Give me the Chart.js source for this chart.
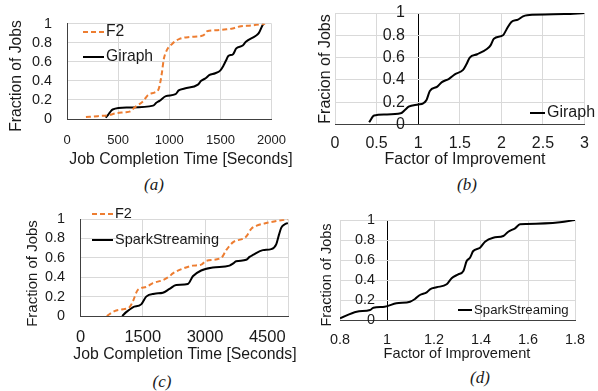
<!DOCTYPE html>
<html>
<head>
<meta charset="utf-8">
<script src="https://cdn.jsdelivr.net/npm/chart.js@4/dist/chart.umd.min.js"></script>
<style>
body { margin: 0; background: #fff; }
#wrap { position: relative; width: 598px; height: 391px; overflow: hidden; }
canvas { position: absolute; }
.cap { position: absolute; font: italic 17px "Liberation Serif", serif; color: #1a1a1a; transform: translate(-50%, -50%); }
</style>
</head>
<body>
<div id="wrap">
  <canvas id="ca" width="300" height="172" style="left:0;top:0"></canvas>
  <canvas id="cb" width="298" height="172" style="left:300px;top:0"></canvas>
  <canvas id="cc" width="300" height="172" style="left:0;top:195px"></canvas>
  <canvas id="cd" width="298" height="172" style="left:300px;top:195px"></canvas>
  <div class="cap" style="left:154px;top:185px">(a)</div>
  <div class="cap" style="left:467px;top:185px">(b)</div>
  <div class="cap" style="left:162px;top:382px">(c)</div>
  <div class="cap" style="left:480px;top:378px">(d)</div>
</div>
<script>
// tick labels
var fracTicks = [0, 0.2, 0.4, 0.6, 0.8, 1];
var timeTicksA = [0, 500, 1000, 1500, 2000];
var factorTicksB = [0, 0.5, 1, 1.5, 2, 2.5, 3];
var timeTicksC = [0, 1500, 3000, 4500];
var factorTicksD = [0.8, 1, 1.2, 1.4, 1.6, 1.8];

// (a) job completion time, Giraph
var f2TimeA = [185, 300, 404, 480, 560, 620, 650, 685, 748, 790, 860, 895, 915, 930, 945, 975, 1030, 1100, 1200, 1312, 1350, 1371, 1450, 1559, 1620, 1687, 1800, 1875, 1937];
var f2FracA = [0.02, 0.03, 0.04, 0.06, 0.07, 0.08, 0.11, 0.14, 0.19, 0.25, 0.28, 0.31, 0.40, 0.50, 0.62, 0.72, 0.79, 0.84, 0.86, 0.87, 0.89, 0.92, 0.93, 0.94, 0.95, 0.97, 0.98, 0.99, 1.0];
var giraphTimeA = [378, 400, 420, 446, 600, 842, 873, 904, 967, 1061, 1092, 1150, 1280, 1312, 1359, 1390, 1450, 1500, 1530, 1562, 1577, 1624, 1655, 1718, 1749, 1843, 1875, 1906, 1922];
var giraphFracA = [0.015, 0.04, 0.07, 0.10, 0.12, 0.14, 0.17, 0.19, 0.24, 0.26, 0.30, 0.32, 0.36, 0.40, 0.43, 0.46, 0.48, 0.51, 0.56, 0.63, 0.66, 0.68, 0.74, 0.77, 0.81, 0.87, 0.90, 0.97, 1.0];

// (b) factor of improvement, Giraph
var giraphFactorB = [0.41, 0.47, 0.60, 0.79, 0.84, 0.885, 1.0, 1.06, 1.10, 1.14, 1.23, 1.285, 1.37, 1.44, 1.54, 1.58, 1.62, 1.71, 1.83, 1.87, 1.91, 2.02, 2.06, 2.12, 2.20, 2.26, 2.31, 2.76, 3.0];
var giraphFracB = [0.02, 0.08, 0.09, 0.10, 0.13, 0.16, 0.18, 0.19, 0.22, 0.30, 0.34, 0.38, 0.41, 0.45, 0.49, 0.54, 0.60, 0.63, 0.68, 0.71, 0.77, 0.80, 0.85, 0.92, 0.94, 0.97, 0.98, 0.99, 1.0];

// (c) job completion time, SparkStreaming
var f2TimeC = [634, 819, 1020, 1181, 1261, 1382, 1583, 1743, 1984, 2145, 2225, 2466, 2707, 2908, 3029, 3391, 3511, 3671, 3993, 4114, 4234, 4475, 4716, 4996];
var f2FracC = [0.0, 0.05, 0.07, 0.09, 0.15, 0.27, 0.30, 0.34, 0.37, 0.41, 0.44, 0.49, 0.52, 0.53, 0.57, 0.60, 0.68, 0.76, 0.82, 0.90, 0.93, 0.96, 0.98, 1.0];
var sparkTimeC = [1004, 1101, 1261, 1462, 1583, 1783, 1984, 2145, 2306, 2586, 2707, 2908, 3189, 3591, 3671, 3752, 3993, 4073, 4154, 4395, 4596, 4716, 4780, 4836, 4916, 4996];
var sparkFracC = [0.0, 0.04, 0.09, 0.12, 0.20, 0.23, 0.24, 0.28, 0.32, 0.33, 0.41, 0.47, 0.50, 0.52, 0.54, 0.565, 0.58, 0.61, 0.63, 0.68, 0.69, 0.74, 0.835, 0.91, 0.945, 0.96];

// (d) factor of improvement, SparkStreaming
var sparkFactorD = [0.80, 0.871, 0.928, 0.942, 0.99, 1.04, 1.098, 1.119, 1.14, 1.169, 1.183, 1.211, 1.254, 1.275, 1.303, 1.325, 1.339, 1.353, 1.367, 1.396, 1.417, 1.452, 1.495, 1.516, 1.545, 1.566, 1.594, 1.736, 1.8];
var sparkFracD = [0.017, 0.083, 0.10, 0.123, 0.133, 0.167, 0.183, 0.21, 0.25, 0.277, 0.307, 0.327, 0.357, 0.417, 0.457, 0.49, 0.59, 0.623, 0.69, 0.723, 0.783, 0.823, 0.84, 0.883, 0.917, 0.957, 0.96, 0.977, 1.0];

var TEXT = '#1a1a1a';
var GRID = '#d9d9d9';
var AXIS = '#404040';
var ORANGE = '#ed7d31';

Chart.defaults.font.family = '"Liberation Sans", Arial, sans-serif';
Chart.defaults.color = TEXT;

function pts(xs, ys) {
  return xs.map(function (x, i) { return { x: x, y: ys[i] }; });
}

function f2Set(xs, ys) {
  return { label: 'F2', data: pts(xs, ys), borderColor: ORANGE, borderWidth: 2, borderDash: [5, 3],
           pointRadius: 0, cubicInterpolationMode: 'monotone', fill: false };
}
function blackSet(label, xs, ys) {
  return { label: label, data: pts(xs, ys), borderColor: '#000', borderWidth: 2,
           pointRadius: 0, cubicInterpolationMode: 'monotone', fill: false };
}

// legend drawn inside the plot
var insideLegend = {
  id: 'insideLegend',
  afterDatasetsDraw: function (chart, args, o) {
    var ctx = chart.ctx;
    chart.data.datasets.forEach(function (ds, i) {
      var p = o.items[i];
      ctx.save();
      ctx.strokeStyle = ds.borderColor;
      ctx.lineWidth = ds.borderWidth;
      ctx.setLineDash(ds.borderDash || []);
      ctx.beginPath();
      ctx.moveTo(p[0], p[1]);
      ctx.lineTo(p[0] + o.len, p[1]);
      ctx.stroke();
      ctx.setLineDash([]);
      ctx.fillStyle = TEXT;
      ctx.font = o.size + 'px "Liberation Sans", Arial';
      ctx.textBaseline = 'middle';
      ctx.fillText(ds.label, p[0] + o.len + 2, p[1]);
      ctx.restore();
    });
  }
};

// axis titles, placed like in the paper figure
var axisTitles = {
  id: 'axisTitles',
  afterDraw: function (chart, args, o) {
    var ctx = chart.ctx;
    o.items.forEach(function (t) {
      ctx.save();
      ctx.translate(t.x, t.y);
      if (t.rot) ctx.rotate(-Math.PI / 2);
      ctx.font = t.size + 'px "Liberation Sans", Arial';
      ctx.fillStyle = TEXT;
      ctx.textAlign = 'center';
      ctx.textBaseline = 'middle';
      ctx.fillText(t.text, 0, 0);
      ctx.restore();
    });
  }
};

// crossAt: the x value where the black vertical axis line sits
function xScale(min, max, ticks, tickSize, tickPad, height, crossAt) {
  return {
    type: 'linear', min: min, max: max,
    afterBuildTicks: function (s) {
      var all = ticks.slice();
      if (all[all.length - 1] < max) all.push(max);
      s.ticks = all.map(function (v) { return { value: v }; });
    },
    ticks: { autoSkip: false, maxRotation: 0, font: { size: tickSize }, padding: tickPad,
             callback: function (v) { return ticks.indexOf(v) >= 0 ? String(v) : ''; } },
    grid: { drawTicks: false,
            color: function (c) { return c.tick && c.tick.value === crossAt ? '#000' : GRID; } },
    border: { color: AXIS, width: 1 },
    afterFit: function (s) { s.height = height; }
  };
}

function yScale(position, tickSize, tickPad, width) {
  var s = {
    type: 'linear', min: 0, max: 1, position: position,
    afterBuildTicks: function (sc) { sc.ticks = fracTicks.map(function (v) { return { value: v }; }); },
    ticks: { autoSkip: false, font: { size: tickSize }, padding: tickPad,
             callback: function (v) { return String(v); } },
    grid: { color: GRID, drawTicks: false },
    border: { display: !!width, color: AXIS, width: 1 }
  };
  if (width) s.afterFit = function (sc) { sc.width = width; };
  return s;
}

function makeChart(id, datasets, scales, padding, legend, titles) {
  return new Chart(document.getElementById(id), {
    type: 'line',
    data: { datasets: datasets },
    options: {
      responsive: false, animation: false, devicePixelRatio: 1,
      layout: { padding: padding },
      scales: scales,
      plugins: { legend: { display: false }, tooltip: { enabled: false },
                 insideLegend: legend, axisTitles: { items: titles } }
    },
    plugins: [insideLegend, axisTitles]
  });
}

makeChart('ca',
  [f2Set(f2TimeA, f2FracA), blackSet('Giraph', giraphTimeA, giraphFracA)],
  { x: xScale(0, 2000, timeTicksA, 13, 14, 53, null),
    y: yScale('left', 14.4, 15, 67) },
  { left: 0, right: 20, top: 17, bottom: 0 },
  { items: [[83, 32], [83, 57]], len: 21, size: 15.7 },
  [{ text: 'Fraction of Jobs', x: 17, y: 76, size: 15.7, rot: true },
   { text: 'Job Completion Time [Seconds]', x: 181, y: 160, size: 15.8 }]);

// y labels sit just left of the line at x = 1
makeChart('cb',
  [blackSet('Giraph', giraphFactorB, giraphFracB)],
  { x: xScale(0, 3, factorTicksB, 16, 9, 47.5, 1),
    y: yScale({ x: 0.84 }, 16, 0) },
  { left: 35, right: 4, top: 13, bottom: 0 },
  { items: [[230, 113]], len: 15, size: 16 },
  [{ text: 'Fracion of Jobs', x: 26, y: 69, size: 16, rot: true },
   { text: 'Factor of Improvement', x: 165, y: 160, size: 16 }]);

makeChart('cc',
  [f2Set(f2TimeC, f2FracC), blackSet('SparkStreaming', sparkTimeC, sparkFracC)],
  { x: xScale(0, 5000, timeTicksC, 16.5, 12, 51, null),
    y: yScale('left', 14.4, 15.5, 80.5) },
  { left: 0, right: 11.5, top: 17.5, bottom: 0 },
  { items: [[92, 19], [92, 45]], len: 21, size: 14.5 },
  [{ text: 'Fraction of Jobs', x: 33, y: 78.5, size: 15, rot: true },
   { text: 'Job Completion Time [Seconds]', x: 185, y: 160, size: 15.8 }]);

makeChart('cd',
  [blackSet('SparkStreaming', sparkFactorD, sparkFracD)],
  { x: xScale(0.8, 1.8, factorTicksD, 14.4, 11, 47, 1),
    y: yScale({ x: 0.949 }, 14.4, 0) },
  { left: 40, right: 23, top: 25, bottom: 0 },
  { items: [[158, 115]], len: 14, size: 13.2 },
  [{ text: 'Fraction of Jobs', x: 27, y: 80, size: 14.5, rot: true },
   { text: 'Factor of Improvement', x: 157, y: 159, size: 14.6 }]);
</script>
</body>
</html>
